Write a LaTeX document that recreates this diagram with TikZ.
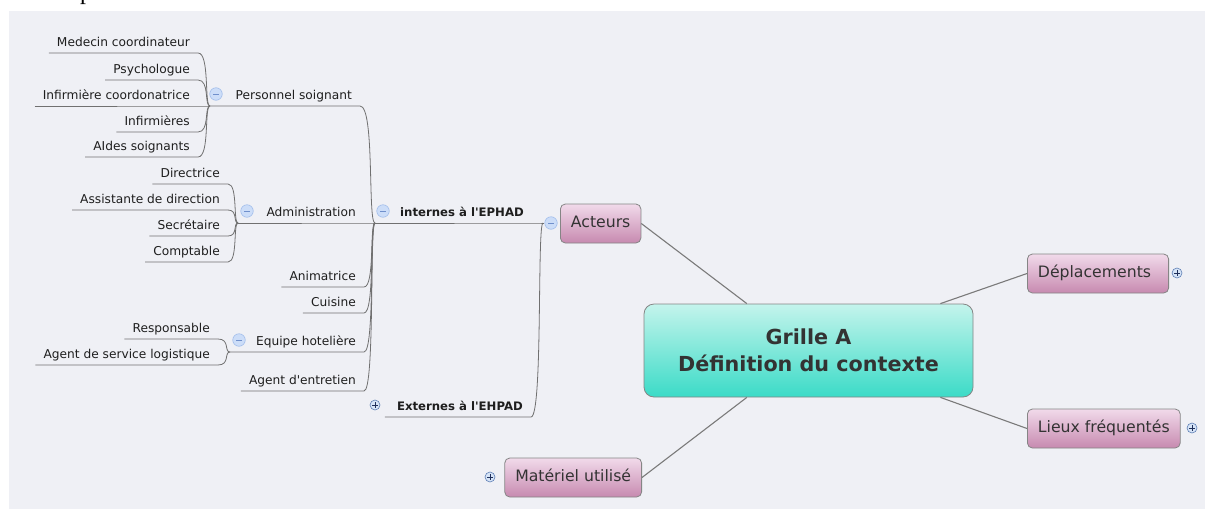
\documentclass[tikz,border=0pt]{standalone}
\usepackage{fontspec}
\setmainfont{DejaVu Sans}
\newfontfamily\serifp{Liberation Serif}
\usetikzlibrary{calc}
\definecolor{bg}{HTML}{EFF0F5}
\definecolor{ln}{HTML}{707070}
\definecolor{cln}{HTML}{7A7A7A}
\definecolor{txt}{HTML}{1E1E1E}
\definecolor{btxt}{HTML}{333333}
\definecolor{pinkT}{HTML}{F1DAEA}
\definecolor{pinkB}{HTML}{C78AB0}
\definecolor{tealT}{HTML}{C4F4EC}
\definecolor{tealB}{HTML}{3BDBC7}
\definecolor{boxdraw}{HTML}{858585}
\definecolor{icf}{HTML}{CCDDF8}
\definecolor{icb}{HTML}{A0BCEA}
\definecolor{icm}{HTML}{7090CC}
\definecolor{pcf}{HTML}{D6E4F7}
\definecolor{pcb}{HTML}{5F7FB5}
\definecolor{pcm}{HTML}{1F2F5A}
\newcommand\sq{\XeTeXglyph\XeTeXglyphindex "quotesingle"\relax}
\newcommand\leaflink[2]{\draw[conn] (#1.south west) -- (#1.south east) .. controls (#2 |- #1.south east) and ($(#1.south east |- #2)!0.5!(#2)$) .. (#2);}
\newcommand\parlink[3]{\draw[conn] (#1) -- (#2.south east) .. controls (#3 |- #2.south east) and ($(#2.south east |- #3)!0.5!(#3)$) .. (#3);}
\begin{document}
\begin{tikzpicture}[x=1pt,y=-1pt,
  conn/.style={draw=ln, line width=0.8pt},
  cline/.style={draw=cln, line width=1.1pt},
  leaf/.style={anchor=south east, inner xsep=8pt, inner ysep=3pt, text height=9.5pt, text depth=3pt, text=txt, font=\fontsize{12.2}{14}\selectfont},
  boldleaf/.style={leaf, font=\bfseries\fontsize{11.7}{14}\selectfont},
  topic/.style={draw=boxdraw, line width=0.8pt, rounded corners=5pt, top color=pinkT, bottom color=pinkB, minimum height=39pt, inner xsep=10.5pt, text height=11pt, text depth=3.5pt, text=btxt, font=\fontsize{15.7}{18}\selectfont},
  central/.style={draw=boxdraw, line width=0.8pt, rounded corners=10pt, top color=tealT, bottom color=tealB, minimum width=329pt, minimum height=93pt, align=center, text=btxt, font=\bfseries\fontsize{20.7}{27}\selectfont},
  minusic/.style={circle, minimum size=12.5pt, inner sep=0pt, draw=icb, line width=0.6pt, fill=icf,
    path picture={\draw[icm, line width=1pt] ([xshift=-3pt]path picture bounding box.center) -- ([xshift=3pt]path picture bounding box.center);}},
  plusic/.style={circle, minimum size=10pt, inner sep=0pt, draw=pcb, line width=0.6pt, fill=pcf,
    path picture={\draw[pcm, line width=0.8pt] ([xshift=-2.6pt]path picture bounding box.center) -- ([xshift=2.6pt]path picture bounding box.center) ([yshift=-2.6pt]path picture bounding box.center) -- ([yshift=2.6pt]path picture bounding box.center);}}
]
\useasboundingbox (0,0) rectangle (1205,509);
\fill[white] (0,0) rectangle (1205,509);
\fill[bg] (9,11) rectangle (1205,509);
\begin{scope}
  \clip (0,0) rectangle (1205,10);
  \node[anchor=base west, inner sep=0pt, font=\serifp\fontsize{24}{28}\selectfont] (pglyph) at (80,-1) {p};
\end{scope}

% junctions
\coordinate (psJ) at (210,106);
\coordinate (adJ) at (238,223);
\coordinate (eqJ) at (230,352);
\coordinate (intJ) at (375,223);
\coordinate (actJ) at (543,223);

% Personnel soignant
\node[leaf] (med) at (198,53) {Medecin coordinateur};
\node[leaf] (psy) at (198,80) {Psychologue};
\node[leaf] (infc) at (198,106) {Infirmière coordonatrice};
\node[leaf] (inf) at (198,132) {Infirmières};
\node[leaf] (aid) at (198,157) {AIdes soignants};
\node[leaf] (ps) at (360,106) {Personnel soignant};
\node[minusic] (psI) at (216,94) {};

% Administration
\node[leaf] (dir) at (228,184) {Directrice};
\node[leaf] (asd) at (228,210) {Assistante de direction};
\node[leaf] (sec) at (228,236) {Secrétaire};
\node[leaf] (cpt) at (228,262) {Comptable};
\node[leaf] (ad) at (364,223) {Administration};
\node[minusic] (adI) at (247,211) {};

% other internal
\node[leaf] (ani) at (364,287) {Animatrice};
\node[leaf] (cui) at (364,313) {Cuisine};
\node[leaf] (eq) at (364,352) {Equipe hotelière};
\node[minusic] (eqI) at (239,340) {};
\node[leaf] (res) at (218,339) {Responsable};
\node[leaf] (asl) at (218,365) {Agent de service logistique};
\node[leaf] (ent) at (364,391) {Agent d\sq entretien};

% internes / externes
\node[boldleaf] (int) at (532,223) {internes à l\sq EPHAD};
\node[minusic] (intI) at (383,211) {};
\node[boldleaf] (ext) at (531,417) {Externes à l\sq EHPAD};
\node[plusic] (extI) at (375,405) {};

% main topics
\node[topic, anchor=west] (act) at (560,223.5) {Acteurs};
\node[minusic] (actI) at (551,223) {};
\node[topic, anchor=west] (dep) at (1027,273.5) {Déplacements\hspace*{7pt}};
\node[plusic] (depI) at (1177,273) {};
\node[topic, anchor=west] (lie) at (1027,428.5) {Lieux fréquentés};
\node[plusic] (lieI) at (1192,428) {};
\node[topic, anchor=east] (mat) at (642,477.5) {Matériel utilisé};
\node[plusic] (matI) at (490,477) {};
\node[central] (c) at (808.5,350.5) {Grille A\\Définition du contexte};

% connectors
\leaflink{med}{psJ}
\leaflink{psy}{psJ}
\leaflink{infc}{psJ}
\leaflink{inf}{psJ}
\leaflink{aid}{psJ}
\parlink{psJ}{ps}{intJ}
\leaflink{dir}{adJ}
\leaflink{asd}{adJ}
\leaflink{sec}{adJ}
\leaflink{cpt}{adJ}
\parlink{adJ}{ad}{intJ}
\leaflink{ani}{intJ}
\leaflink{cui}{intJ}
\leaflink{res}{eqJ}
\leaflink{asl}{eqJ}
\parlink{eqJ}{eq}{intJ}
\leaflink{ent}{intJ}
\parlink{intJ}{int}{actJ}
\draw[conn] ($(ext.south west)+(-4,0)$) -- (ext.south east) .. controls (actJ |- ext.south east) and ($(ext.south east |- actJ)!0.5!(actJ)$) .. (actJ);
\draw[conn] (actJ) -- (actI.west);

\draw[cline] (act.east) -- ($(c.north west)!0.313!(c.north east)$);
\draw[cline] (dep.west) -- ($(c.north west)!0.9!(c.north east)$);
\draw[cline] (lie.west) -- ($(c.south west)!0.9!(c.south east)$);
\draw[cline] (mat.east) -- ($(c.south west)!0.313!(c.south east)$);
\end{tikzpicture}
\end{document}
